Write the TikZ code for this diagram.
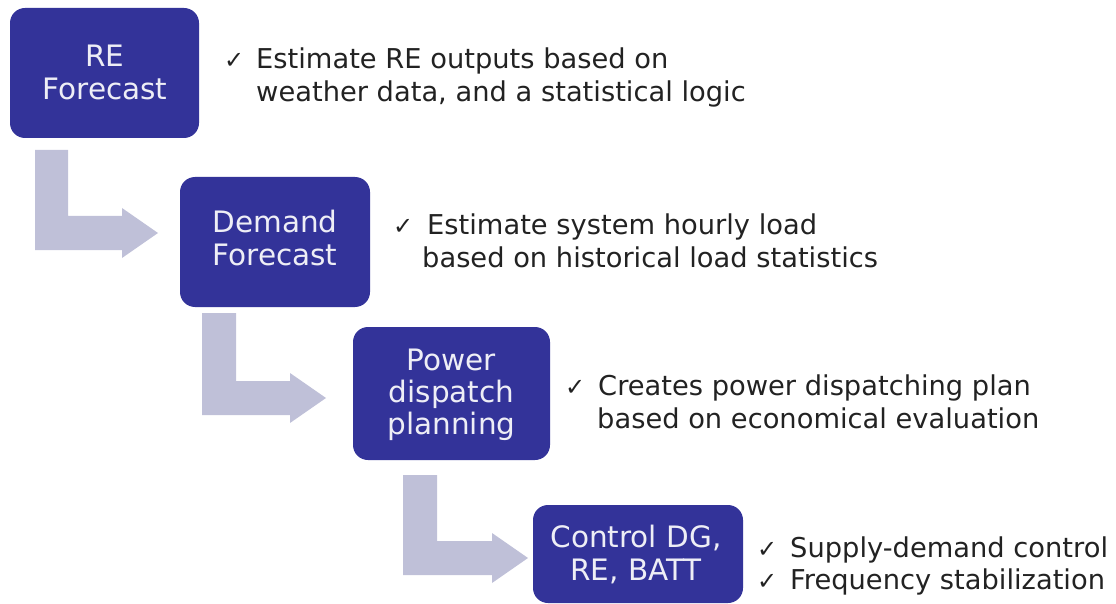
\documentclass[tikz,border=0pt]{standalone}
\usepackage{fontspec}
\setmainfont{DejaVu Sans}
\definecolor{boxblue}{HTML}{333399}
\definecolor{arrowgray}{HTML}{BFC0D8}
\definecolor{desctext}{HTML}{222222}
\definecolor{boxtext}{HTML}{EEEEF6}
\begin{document}
\begin{tikzpicture}[x=1pt,y=-1pt,
  stepbox/.style={fill=boxblue, rounded corners=15pt, inner sep=0pt},
  boxtxt/.style={text=boxtext, font=\fontsize{29.5}{33}\selectfont, anchor=base, inner sep=0pt},
  desc/.style={text=desctext, font=\fontsize{27.3}{32}\selectfont, anchor=base west, inner sep=0pt},
  chk/.style={text=desctext, font=\fontsize{24}{28}\selectfont, anchor=base west, inner sep=0pt},
  flow/.style={fill=arrowgray}]
\useasboundingbox (0,0) rectangle (1116,604);

% flow arrows
\fill[flow] (35,150) -- (68,150) -- (68,216) -- (122,216) -- (122,208) -- (158,233)
  -- (122,258) -- (122,250) -- (35,250) -- cycle;
\fill[flow] (202,313) -- (236,313) -- (236,381) -- (290,381) -- (290,373) -- (326,398)
  -- (290,423) -- (290,415) -- (202,415) -- cycle;
\fill[flow] (403,475) -- (437,475) -- (437,541) -- (492,541) -- (492,533) -- (528,558)
  -- (492,583) -- (492,575) -- (403,575) -- cycle;

% boxes
\node[stepbox, minimum width=189pt, minimum height=130pt] (b1) at (104.5,73) {};
\node[stepbox, minimum width=190pt, minimum height=130pt] (b2) at (275,242) {};
\node[stepbox, minimum width=197pt, minimum height=133pt] (b3) at (451.5,393.5) {};
\node[stepbox, minimum width=210pt, minimum height=98pt] (b4) at (638,554) {};

% box texts
\node[boxtxt] (t1a) at (105,67) {RE};
\node[boxtxt] (t1b) at (105,100) {Forecast};
\node[boxtxt] (t2a) at (275,233) {Demand};
\node[boxtxt] (t2b) at (275,265) {Forecast};
\node[boxtxt] (t3a) at (451.5,370) {Power};
\node[boxtxt] (t3b) at (451.5,402) {dispatch};
\node[boxtxt] (t3c) at (451.5,434) {planning};
\node[boxtxt] (t4a) at (636,547) {Control DG,};
\node[boxtxt] (t4b) at (636,580) {RE, BATT};

% descriptions
\node[chk] (c1) at (224,69) {✓};
\node[desc] (d1a) at (256,69) {Estimate RE outputs based on};
\node[desc] (d1b) at (256,102) {weather data, and a statistical logic};
\node[chk] (c2) at (393,234) {✓};
\node[desc] (d2a) at (427,234) {Estimate system hourly load};
\node[desc] (d2b) at (422,267) {based on historical load statistics};
\node[chk] (c3) at (565,395) {✓};
\node[desc] (d3a) at (598,395) {Creates power dispatching plan};
\node[desc] (d3b) at (597,428) {based on economical evaluation};
\node[chk] (c4a) at (757,557) {✓};
\node[desc] (d4a) at (790,557) {Supply-demand control};
\node[chk] (c4b) at (757,589) {✓};
\node[desc] (d4b) at (790,589) {Frequency stabilization};
\end{tikzpicture}
\end{document}
